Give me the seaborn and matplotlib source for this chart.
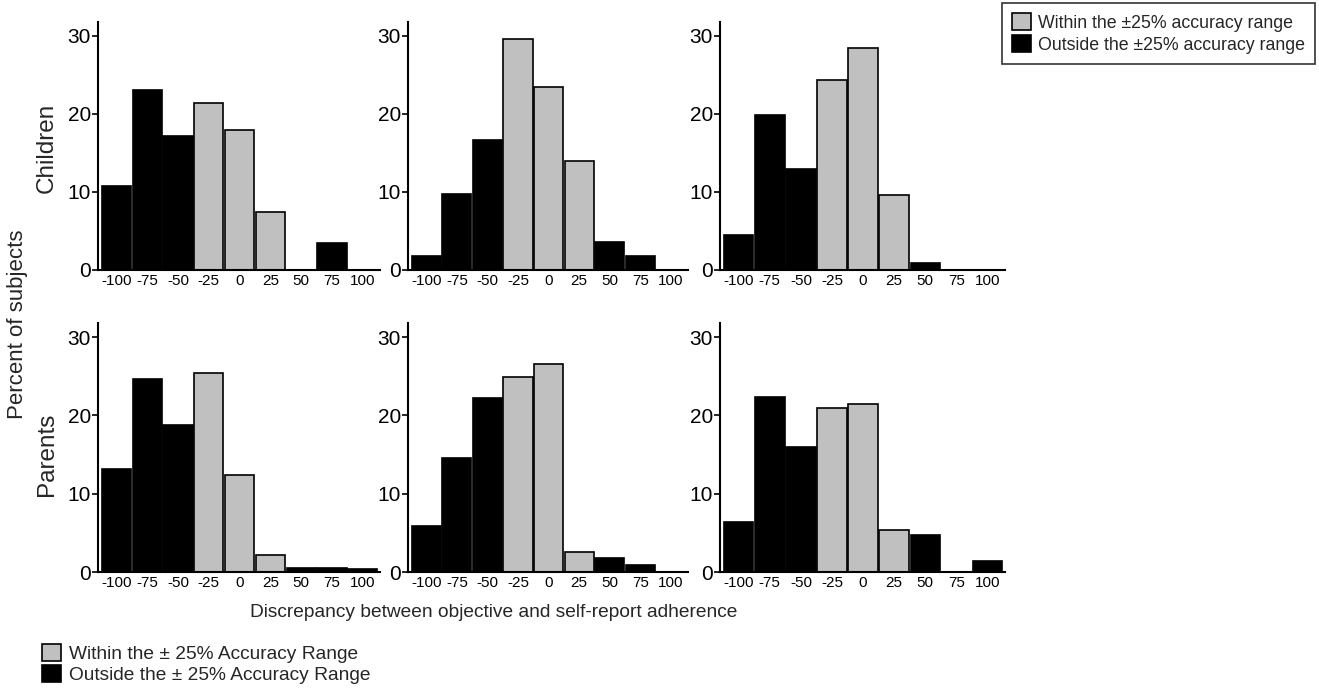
import matplotlib
matplotlib.use("Agg")
import matplotlib.pyplot as plt
from matplotlib.patches import Patch
import pandas as pd
import seaborn as sns

# discrepancy bins (x categories)
bins = ["-100", "-75", "-50", "-25", "0", "25", "50", "75", "100"]
# which bins are inside the +/-25% accuracy range
status = ["Outside", "Outside", "Outside", "Within", "Within", "Within",
          "Outside", "Outside", "Outside"]

# percent of subjects
children_a = [10.8, 23.1, 17.2, 21.4, 18.0, 7.4, 0.0, 3.4, 0.0]
children_b = [1.8, 9.8, 16.6, 29.6, 23.4, 14.0, 3.6, 1.8, 0.0]
children_c = [4.5, 19.9, 13.0, 24.3, 28.5, 9.6, 0.9, 0.0, 0.0]
parents_a = [13.2, 24.6, 18.8, 25.4, 12.4, 2.2, 0.5, 0.5, 0.4]
parents_b = [5.9, 14.5, 22.2, 24.9, 26.5, 2.6, 1.8, 0.9, 0.0]
parents_c = [6.4, 22.3, 16.0, 21.0, 21.5, 5.4, 4.7, 0.0, 1.4]

yticks = [0, 10, 20, 30]
colors = {"Within": "#c0c0c0", "Outside": "black"}

sns.set_style("ticks")
plt.rcParams["font.family"] = ["Liberation Sans", "DejaVu Sans"]

fig = plt.figure(figsize=(13.19, 6.88), dpi=100)

lefts = [0.0743, 0.3093, 0.5459]
widths = [0.2138, 0.2123, 0.2160]
rows = [(0.6076, 0.3605, [children_a, children_b, children_c]),
        (0.1686, 0.3620, [parents_a, parents_b, parents_c])]

for bottom, height, series in rows:
    for left, width, vals in zip(lefts, widths, series):
        ax = fig.add_axes([left, bottom, width, height])
        df = pd.DataFrame({"bin": bins, "pct": vals, "status": status})
        sns.barplot(data=df, x="bin", y="pct", hue="status", order=bins,
                    palette=colors, dodge=False, width=0.95,
                    edgecolor="black", linewidth=1.2, legend=False, ax=ax)
        ax.set_xlim(-0.6, 8.56)
        ax.set_ylim(0, 31.8)
        ax.set_yticks(yticks)
        ax.set_xlabel("")
        ax.set_ylabel("")
        ax.tick_params(axis="y", labelsize=15, length=4, width=1.2, pad=1,
                       colors="black")
        ax.tick_params(axis="x", labelsize=11, length=0, pad=3,
                       colors="black")
        for side in ["top", "right"]:
            ax.spines[side].set_visible(False)
        for side in ["left", "bottom"]:
            ax.spines[side].set_linewidth(1.5)
            ax.spines[side].set_color("black")

fig.text(0.0356, 0.785, "Children", rotation=90, ha="center", va="center",
         fontsize=17.5)
fig.text(0.0356, 0.340, "Parents", rotation=90, ha="center", va="center",
         fontsize=17.5)
fig.text(0.0136, 0.528, "Percent of subjects", rotation=90, ha="center",
         va="center", fontsize=16)
fig.text(0.374, 0.110, "Discrepancy between objective and self-report adherence",
         ha="center", va="center", fontsize=13.8)

# top-right legend
top_handles = [Patch(facecolor="#c0c0c0", edgecolor="black", linewidth=1.2),
               Patch(facecolor="black", edgecolor="black", linewidth=1.2)]
leg = fig.legend(top_handles,
                 ["Within the \u00b125% accuracy range",
                  "Outside the \u00b125% accuracy range"],
                 loc="upper right", bbox_to_anchor=(0.997, 0.995),
                 fontsize=12.8, frameon=True, fancybox=False,
                 handlelength=1.1, handleheight=1.1, handletextpad=0.4,
                 labelspacing=0.2, borderpad=0.55, borderaxespad=0)
leg.get_frame().set_edgecolor("black")
leg.get_frame().set_linewidth(1.2)

# bottom-left legend
fig.legend(top_handles,
           ["Within the \u00b1 25% Accuracy Range",
            "Outside the \u00b1 25% Accuracy Range"],
           loc="lower left", bbox_to_anchor=(0.029, 0.0),
           fontsize=13.8, frameon=False,
           handlelength=1.0, handleheight=1.0, handletextpad=0.4,
           labelspacing=0.1, borderpad=0.2, borderaxespad=0)

fig.savefig("out.png", dpi=100)
